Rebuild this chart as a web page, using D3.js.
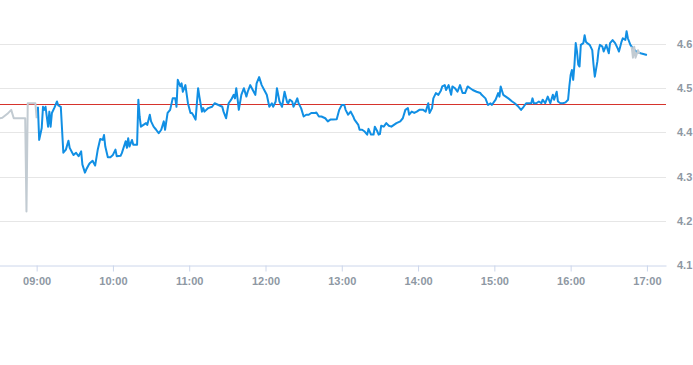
<!DOCTYPE html>
<html>
<head>
<meta charset="utf-8">
<script src="https://cdn.jsdelivr.net/npm/d3@7"></script>
<style>
  html, body { margin: 0; padding: 0; background: #ffffff; }
  svg { display: block; font-family: "Liberation Sans", Arial, Helvetica, sans-serif; }
</style>
</head>
<body>
<svg id="chart" width="693" height="365"></svg>
<script>
// ---- data ----
const preTimes = ["08:31","08:33","08:37","08:40","08:42","08:51","08:52","08:53","08:59","09:00"];
const preValues = [4.432,4.433,4.442,4.451,4.432,4.432,4.221,4.466,4.466,4.432];

const times = [
"09:01","09:02","09:04","09:05","09:06","09:07","09:09","09:10","09:11","09:12",
"09:14","09:16","09:17","09:19","09:21","09:23","09:25","09:26","09:28","09:29",
"09:31","09:33","09:35","09:36","09:38","09:39","09:41","09:42","09:44","09:46",
"09:48","09:50","09:52","09:53","09:54","09:56","09:58","10:00","10:02","10:03",
"10:06","10:07","10:10","10:11","10:12","10:13","10:15","10:16","10:19","10:20",
"10:21","10:22","10:24","10:26","10:27","10:29","10:30","10:32","10:34","10:36",
"10:38","10:40","10:41","10:43","10:45","10:47","10:49","10:50","10:51","10:53",
"10:54","10:55","10:57","10:59","11:01","11:02","11:03","11:05","11:07","11:08",
"11:10","11:11","11:12","11:15","11:18","11:20","11:23","11:26","11:27","11:29",
"11:31","11:33","11:35","11:36","11:37","11:38","11:39","11:41","11:43","11:45",
"11:46","11:48","11:50","11:52","11:53","11:55","11:57","11:59","12:01","12:03",
"12:05","12:06","12:08","12:09","12:11","12:13","12:15","12:17","12:18","12:19",
"12:21","12:22","12:24","12:25","12:26","12:28","12:30","12:32","12:34","12:36",
"12:39","12:40","12:42","12:44","12:47","12:49","12:51","12:53","12:56","12:58",
"13:00","13:02","13:03","13:05","13:07","13:09","13:10","13:13","13:14","13:16",
"13:18","13:20","13:21","13:23","13:25","13:26","13:28","13:29","13:30","13:31",
"13:33","13:35","13:37","13:39","13:41","13:43","13:46","13:48","13:50","13:52",
"13:53","13:55","13:57","13:59","14:01","14:04","14:06","14:08","14:09","14:11",
"14:12","14:14","14:16","14:18","14:19","14:21","14:22","14:24","14:26","14:27",
"14:29","14:31","14:33","14:35","14:37","14:39","14:41","14:43","14:46","14:49",
"14:50","14:53","14:55","14:57","14:58","15:01","15:03","15:04","15:05","15:07",
"15:09","15:11","15:14","15:16","15:19","15:21","15:23","15:25","15:27","15:29",
"15:30","15:31","15:33","15:35","15:37","15:38","15:40","15:42","15:44","15:46",
"15:47","15:49","15:50","15:52","15:54","15:56","15:58","15:59","16:00","16:01",
"16:02","16:03","16:04","16:05","16:06","16:07","16:08","16:10","16:11","16:12",
"16:13","16:15","16:17","16:18","16:19","16:21","16:22","16:23","16:25","16:26",
"16:28","16:30","16:31","16:33","16:35","16:37","16:38","16:40","16:41","16:43",
"16:44","16:45","16:47","16:49","16:52","16:55","17:00"
];
const values = [
4.458,4.383,4.410,4.458,4.451,4.458,4.413,4.447,4.413,4.444,
4.456,4.470,4.461,4.458,4.354,4.361,4.381,4.365,4.354,4.349,
4.354,4.346,4.357,4.327,4.309,4.316,4.327,4.331,4.336,4.325,
4.360,4.385,4.383,4.394,4.368,4.344,4.344,4.349,4.361,4.346,
4.347,4.353,4.380,4.365,4.387,4.368,4.383,4.372,4.372,4.474,
4.436,4.413,4.417,4.421,4.417,4.440,4.425,4.413,4.406,4.398,
4.406,4.425,4.406,4.444,4.451,4.477,4.477,4.458,4.519,4.504,
4.511,4.492,4.507,4.466,4.444,4.444,4.440,4.429,4.500,4.481,
4.447,4.455,4.447,4.455,4.458,4.466,4.462,4.458,4.447,4.432,
4.466,4.474,4.485,4.477,4.500,4.477,4.451,4.485,4.500,4.481,
4.492,4.507,4.496,4.485,4.511,4.525,4.507,4.496,4.485,4.458,
4.466,4.458,4.470,4.500,4.470,4.458,4.492,4.468,4.466,4.474,
4.470,4.458,4.470,4.477,4.466,4.455,4.436,4.440,4.440,4.444,
4.444,4.445,4.436,4.436,4.432,4.425,4.429,4.429,4.430,4.451,
4.462,4.462,4.451,4.440,4.447,4.436,4.429,4.417,4.406,4.406,
4.402,4.395,4.408,4.395,4.395,4.413,4.402,4.395,4.396,4.415,
4.413,4.421,4.415,4.413,4.417,4.421,4.425,4.432,4.451,4.455,
4.440,4.447,4.444,4.447,4.451,4.451,4.447,4.466,4.444,4.455,
4.477,4.489,4.485,4.495,4.504,4.507,4.496,4.507,4.485,4.504,
4.500,4.492,4.507,4.489,4.489,4.504,4.500,4.496,4.492,4.489,
4.485,4.477,4.462,4.466,4.462,4.474,4.489,4.481,4.504,4.485,
4.481,4.477,4.470,4.466,4.458,4.451,4.458,4.466,4.466,4.466,
4.477,4.466,4.466,4.470,4.466,4.474,4.466,4.481,4.466,4.485,
4.474,4.492,4.470,4.466,4.466,4.468,4.474,4.505,4.530,4.541,
4.519,4.553,4.602,4.583,4.553,4.549,4.598,4.602,4.620,4.605,
4.602,4.598,4.586,4.553,4.526,4.560,4.586,4.598,4.594,4.583,
4.598,4.579,4.602,4.609,4.602,4.590,4.583,4.605,4.613,4.609,
4.629,4.613,4.598,4.590,4.582,4.579,4.575
];

const postTimes = ["16:48","16:49","16:50","16:51","16:53","16:54"];
const postValues = [4.594,4.569,4.594,4.569,4.586,4.578];

const refValue = 4.464;
const yTicks = [4.1, 4.2, 4.3, 4.4, 4.5, 4.6];
const xTickLabels = ["09:00","10:00","11:00","12:00","13:00","14:00","15:00","16:00","17:00"];
const xDomainLabels = ["08:30","17:15"];

// ---- chart ----
const parse = d3.timeParse("%H:%M");
const svg = d3.select("#chart");

const x = d3.scaleTime()
  .domain(xDomainLabels.map(parse))
  .range([-1.5, 666]);
const y = d3.scaleLinear()
  .domain([4.1, 4.6])
  .range([265, 44]);

// grid
svg.append("g").selectAll("line")
  .data(yTicks.filter(v => v > 4.1))
  .join("line")
  .attr("x1", 0).attr("x2", 666)
  .attr("y1", d => Math.round(y(d)) + 0.5).attr("y2", d => Math.round(y(d)) + 0.5)
  .attr("stroke", "#e6e6e6").attr("stroke-width", 1);

// y labels
svg.append("g").selectAll("text")
  .data(yTicks)
  .join("text")
  .attr("x", 677)
  .attr("y", d => y(d) + 4)
  .attr("font-size", 11)
  .attr("fill", "#8e98a3")
  .attr("font-weight", "bold")
  .text(d => d3.format(".1f")(d));

// x axis
const xAxis = d3.axisBottom(x)
  .tickValues(xTickLabels.map(parse))
  .tickFormat(d3.timeFormat("%H:%M"))
  .tickSize(6)
  .tickPadding(6)
  .tickSizeOuter(0);
const gx = svg.append("g")
  .attr("transform", "translate(0,265.5)")
  .call(xAxis);
gx.select(".domain").attr("stroke", "#ccd6eb");
gx.selectAll(".tick line").attr("stroke", "#ccd6eb");
gx.selectAll(".tick text")
  .attr("fill", "#8e98a3")
  .attr("font-size", 11)
  .attr("font-weight", "bold")
  .attr("font-family", "Liberation Sans, Arial, sans-serif");

// reference line
svg.append("line")
  .attr("x1", 0).attr("x2", 666)
  .attr("y1", Math.round(y(refValue)) + 0.5).attr("y2", Math.round(y(refValue)) + 0.5)
  .attr("stroke", "#d6332c").attr("stroke-width", 1);

const line = d3.line()
  .x(d => x(d[0]))
  .y(d => y(d[1]))
  .curve(d3.curveLinear);

// pre-market (grey)
svg.append("path")
  .datum(preTimes.map((t, i) => [parse(t), preValues[i]]))
  .attr("d", line)
  .attr("fill", "none")
  .attr("stroke", "#c2cbd2")
  .attr("stroke-width", 2)
  .attr("stroke-linejoin", "round");

// main session (blue)
svg.append("path")
  .datum(times.map((t, i) => [parse(t), values[i]]))
  .attr("d", line)
  .attr("fill", "none")
  .attr("stroke", "#118fe4")
  .attr("stroke-width", 2)
  .attr("stroke-linejoin", "round");

// post (grey)
svg.append("path")
  .datum(postTimes.map((t, i) => [parse(t), postValues[i]]))
  .attr("d", line)
  .attr("fill", "none")
  .attr("stroke", "#c2cbd2")
  .attr("stroke-width", 2)
  .attr("stroke-linejoin", "round");
</script>
</body>
</html>
